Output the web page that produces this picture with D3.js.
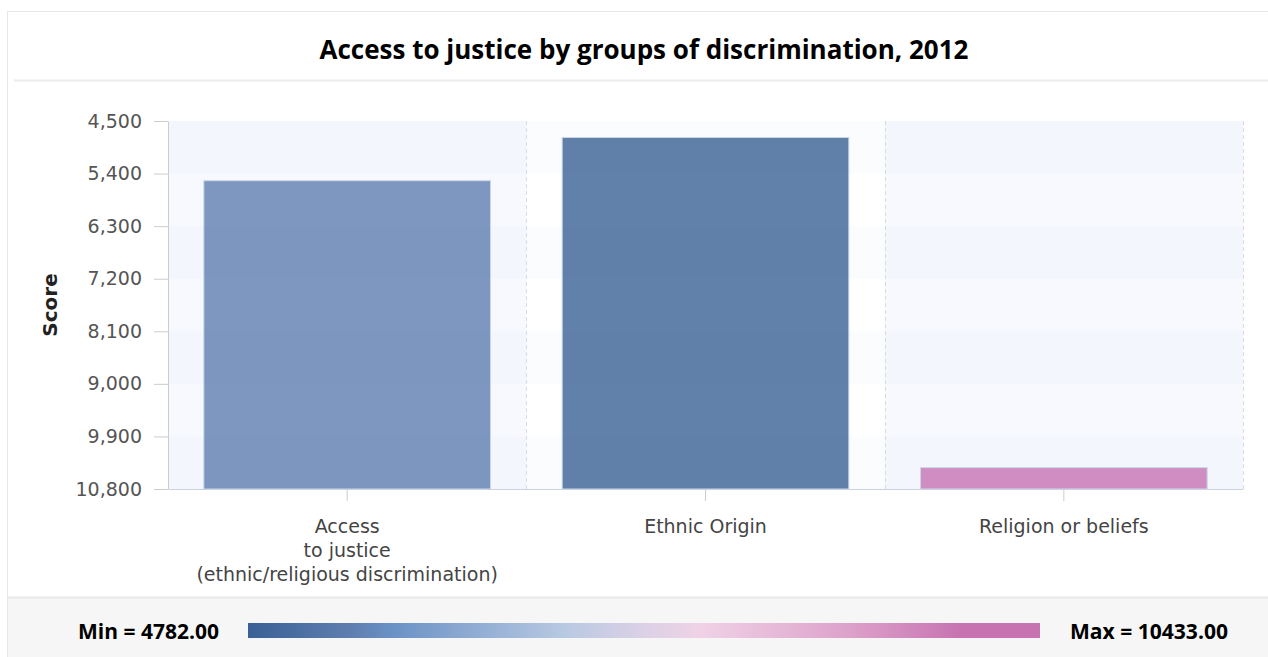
<!DOCTYPE html>
<html>
<head>
<meta charset="utf-8">
<script src="https://cdn.jsdelivr.net/npm/d3@7"></script>
<style>
  body { margin: 0; background: #fff; }
  svg { display: block; }
</style>
</head>
<body>
<svg id="chart" width="1268" height="657"></svg>
<script>
// Chart data
const chartTitle = "Access to justice by groups of discrimination, 2012";
const categories = [
  "Access to justice (ethnic/religious discrimination)",
  "Ethnic Origin",
  "Religion or beliefs"
];
const categoryLines = [
  ["Access", "to justice", "(ethnic/religious discrimination)"],
  ["Ethnic Origin"],
  ["Religion or beliefs"]
];
const scores = [5522, 4782, 10433];
const yTicks = [4500, 5400, 6300, 7200, 8100, 9000, 9900, 10800];
const minScore = 4782;
const maxScore = 10433;
const rampStops = [0, 0.13, 0.18, 0.4, 0.5, 0.57, 0.75, 0.9, 1];
const rampColors = ["#3a6095", "#5f7eb0", "#6a91c5", "#b8c9e2", "#dcd1e6", "#f0d2e6", "#dea4cc", "#c773b1", "#c773b1"];

const svg = d3.select("#chart");
const W = 1268, H = 657;
const plot = { left: 168, right: 1243, top: 121, bottom: 489 };
const axisFont = "'DejaVu Sans', Verdana, sans-serif";

// Card frame, title strip and footer
svg.append("rect").attr("x", 7.5).attr("y", 11.5).attr("width", W + 10).attr("height", H)
  .attr("fill", "#fff").attr("stroke", "#e6e6e6");
svg.append("line").attr("x1", 14).attr("x2", W).attr("y1", 80.5).attr("y2", 80.5)
  .attr("stroke", "#ececec").attr("stroke-width", 2);
svg.append("text").attr("x", 644).attr("y", 59).attr("text-anchor", "middle")
  .attr("font-family", "'Open Sans', sans-serif").attr("font-weight", 700)
  .attr("font-size", 26).attr("fill", "#000").text(chartTitle);

svg.append("rect").attr("x", 8).attr("y", 597).attr("width", W).attr("height", H - 597)
  .attr("fill", "#f6f6f6");
svg.append("line").attr("x1", 8).attr("x2", W).attr("y1", 597.5).attr("y2", 597.5)
  .attr("stroke", "#e8e8e8").attr("stroke-width", 2);

// Scales
const y = d3.scaleLinear().domain([yTicks[0], yTicks[yTicks.length - 1]])
  .range([plot.top, plot.bottom]);
const x = d3.scaleBand().domain(categories).range([plot.left, plot.right])
  .paddingInner(0.2).paddingOuter(0.1);
const color = d3.scaleLinear()
  .domain(rampStops.map(t => minScore + t * (maxScore - minScore)))
  .range(rampColors).clamp(true);

// Plot background: column bands and alternating row bands
const step = x.step();
const colStarts = categories.map(c => x(c) - step * x.paddingInner() / 2);
const bg = svg.append("g");
bg.append("rect").attr("x", plot.left).attr("y", plot.top)
  .attr("width", plot.right - plot.left).attr("height", plot.bottom - plot.top).attr("fill", "#fff");
categories.forEach((c, i) => {
  if (i % 2 === 0) {
    bg.append("rect").attr("x", Math.max(plot.left, colStarts[i])).attr("y", plot.top)
      .attr("width", Math.min(plot.right, colStarts[i] + step) - Math.max(plot.left, colStarts[i]))
      .attr("height", plot.bottom - plot.top).attr("fill", "#f8f9fe");
  }
});
for (let i = 0; i < yTicks.length - 1; i += 2) {
  bg.append("rect").attr("x", plot.left).attr("y", y(yTicks[i]))
    .attr("width", plot.right - plot.left).attr("height", y(yTicks[i + 1]) - y(yTicks[i]))
    .attr("fill", "#2a5cc0").attr("fill-opacity", 0.02);
}
// dashed column separators
categories.forEach((c, i) => {
  const xs = colStarts[i] + step;
  bg.append("line").attr("x1", Math.round(xs) + 0.5).attr("x2", Math.round(xs) + 0.5)
    .attr("y1", plot.top).attr("y2", plot.bottom)
    .attr("stroke", "#dcdcdc").attr("stroke-dasharray", "4,3");
});

// Bars hang from the bottom of the reversed axis up to each score
svg.append("g").selectAll("rect").data(scores).join("rect")
  .attr("x", (d, i) => x(categories[i]))
  .attr("y", d => y(d))
  .attr("width", x.bandwidth())
  .attr("height", d => y(yTicks[yTicks.length - 1]) - y(d))
  .attr("fill", d => color(d)).attr("fill-opacity", 0.8)
  .attr("stroke", "#c9d8ec").attr("stroke-width", 1);

// Y axis
const yAxis = svg.append("g").attr("transform", `translate(${plot.left},0)`)
  .call(d3.axisLeft(y).tickValues(yTicks).tickFormat(d3.format(","))
    .tickSize(14).tickSizeOuter(0).tickPadding(12));
yAxis.select(".domain").attr("stroke", "#cccccc");
yAxis.selectAll(".tick line").attr("stroke", "#cccccc");
yAxis.selectAll(".tick text").attr("font-family", axisFont).attr("font-size", 19)
  .attr("fill", "#555");

svg.append("text").attr("transform", `translate(57,${(plot.top + plot.bottom) / 2}) rotate(-90)`)
  .attr("text-anchor", "middle").attr("font-family", axisFont).attr("font-weight", 700)
  .attr("font-size", 20).attr("fill", "#222").text("Score");

// X axis
const xAxis = svg.append("g").attr("transform", `translate(0,${plot.bottom})`)
  .call(d3.axisBottom(x).tickSize(12).tickSizeOuter(0).tickFormat(""));
xAxis.select(".domain").attr("stroke", "#ccd3e0");
xAxis.selectAll(".tick line").attr("stroke", "#cccccc");
const labels = svg.append("g");
categories.forEach((c, i) => {
  const t = labels.append("text").attr("x", x(c) + x.bandwidth() / 2).attr("y", 533)
    .attr("text-anchor", "middle").attr("font-family", axisFont).attr("font-size", 19)
    .attr("fill", "#444");
  categoryLines[i].forEach((ln, j) => {
    t.append("tspan").attr("x", x(c) + x.bandwidth() / 2).attr("dy", j === 0 ? 0 : 24).text(ln);
  });
});

// Colour ramp legend
const grad = svg.append("defs").append("linearGradient").attr("id", "ramp")
  .attr("x1", "0%").attr("x2", "100%");
rampStops.forEach((s, i) => grad.append("stop").attr("offset", s).attr("stop-color", rampColors[i]));
svg.append("rect").attr("x", 248).attr("y", 623).attr("width", 792).attr("height", 15)
  .attr("fill", "url(#ramp)");
svg.append("text").attr("x", 78).attr("y", 639)
  .attr("font-family", "'Open Sans', sans-serif").attr("font-weight", 700).attr("font-size", 21)
  .attr("fill", "#000").attr("textLength", 141).attr("lengthAdjust", "spacingAndGlyphs")
  .text(`Min = ${minScore.toFixed(2)}`);
svg.append("text").attr("x", 1070).attr("y", 639)
  .attr("font-family", "'Open Sans', sans-serif").attr("font-weight", 700).attr("font-size", 21)
  .attr("fill", "#000").attr("textLength", 158).attr("lengthAdjust", "spacingAndGlyphs")
  .text(`Max = ${maxScore.toFixed(2)}`);
</script>
</body>
</html>
